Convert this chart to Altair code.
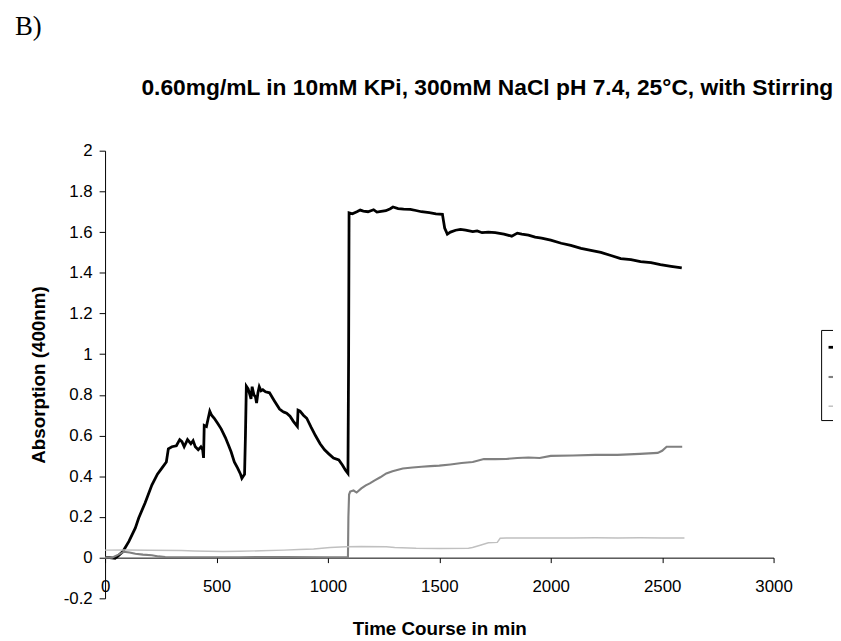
import altair as alt
import pandas as pd

# ---- data ----
black_t = [0, 20, 45, 60, 80, 107, 136, 151, 180, 210, 235, 255, 275, 284, 300, 320, 335, 345, 355, 370,
           385, 395, 405, 418, 430, 438, 442, 445, 455, 462, 470, 478, 490, 505, 521, 540, 555, 566, 580, 595,
           608, 614, 620, 626, 630, 634, 642, 650, 655, 660, 668, 675, 680, 686, 692, 700, 708, 720, 738, 760,
           783, 795, 803, 815, 830, 845, 863, 866, 875, 890, 905, 925, 944, 965, 985, 1004, 1025, 1049, 1065, 1079,
           1090, 1093, 1095, 1110, 1130, 1145, 1159, 1180, 1205, 1220, 1232, 1260, 1280, 1292, 1315, 1340, 1370, 1395, 1420, 1455,
           1485, 1514, 1518, 1524, 1536, 1550, 1573, 1595, 1618, 1650, 1670, 1692, 1720, 1751, 1790, 1825, 1850, 1870, 1900, 1930,
           1959, 2000, 2047, 2090, 2136, 2180, 2225, 2270, 2314, 2360, 2403, 2450, 2492, 2540, 2588]
black_a = [0.0, 0.0, -0.003, 0.01, 0.03, 0.08, 0.146, 0.195, 0.27, 0.357, 0.41, 0.44, 0.47, 0.535, 0.545, 0.55, 0.58, 0.57, 0.545, 0.58,
           0.56, 0.575, 0.545, 0.53, 0.545, 0.53, 0.49, 0.65, 0.645, 0.68, 0.72, 0.70, 0.685, 0.66, 0.633, 0.59, 0.55, 0.519, 0.47, 0.44,
           0.41, 0.39, 0.40, 0.41, 0.60, 0.843, 0.83, 0.80, 0.78, 0.84, 0.80, 0.79, 0.76, 0.81, 0.84, 0.82, 0.825, 0.815, 0.81, 0.77,
           0.73, 0.72, 0.715, 0.71, 0.695, 0.67, 0.645, 0.725, 0.72, 0.70, 0.685, 0.64, 0.60, 0.56, 0.53, 0.51, 0.49, 0.48, 0.455, 0.43,
           0.414, 1.0, 1.695, 1.69, 1.70, 1.708, 1.703, 1.70, 1.71, 1.698, 1.70, 1.705, 1.715, 1.723, 1.715, 1.713, 1.712, 1.706, 1.70, 1.695,
           1.69, 1.687, 1.66, 1.62, 1.59, 1.60, 1.609, 1.613, 1.61, 1.602, 1.606, 1.597, 1.60, 1.597, 1.59, 1.58, 1.595, 1.59, 1.585, 1.575,
           1.57, 1.56, 1.545, 1.535, 1.52, 1.51, 1.50, 1.485, 1.47, 1.465, 1.455, 1.45, 1.44, 1.432, 1.424]

dark_t = [0, 31, 60, 84, 110, 136, 170, 210, 240, 270, 400, 600, 800, 1000, 1090, 1092, 1095, 1100, 1115, 1129,
          1150, 1170, 1188, 1210, 1235, 1262, 1290, 1336, 1380, 1420, 1460, 1500, 1550, 1600, 1650, 1700, 1750, 1800, 1850, 1900,
          1950, 2000, 2100, 2200, 2300, 2400, 2480, 2500, 2520, 2560, 2590]
dark_a = [0.0, 0.0, 0.015, 0.029, 0.025, 0.019, 0.015, 0.012, 0.006, 0.003, 0.002, 0.002, 0.003, 0.002, 0.002, 0.20, 0.31, 0.325, 0.33, 0.32,
          0.34, 0.355, 0.365, 0.38, 0.395, 0.414, 0.425, 0.438, 0.443, 0.447, 0.45, 0.452, 0.458, 0.465, 0.47, 0.485, 0.484, 0.485, 0.49, 0.492,
          0.49, 0.50, 0.502, 0.505, 0.505, 0.51, 0.515, 0.525, 0.545, 0.545, 0.545]

light_t = [0, 100, 200, 343, 400, 460, 530, 600, 700, 803, 870, 936, 1010, 1080, 1150, 1262, 1300, 1396, 1500, 1631,
           1649, 1680, 1720, 1760, 1773, 1800, 1900, 2000, 2100, 2200, 2300, 2400, 2500, 2600]
light_a = [0.037, 0.038, 0.036, 0.035, 0.033, 0.031, 0.030, 0.031, 0.034, 0.037, 0.040, 0.042, 0.050, 0.053, 0.055, 0.053, 0.050, 0.046, 0.045, 0.046,
           0.050, 0.060, 0.073, 0.075, 0.095, 0.097, 0.097, 0.096, 0.097, 0.098, 0.097, 0.098, 0.097, 0.097]

series_names = ["Series1", "Series2", "Series3"]
series_colors = ["#000000", "#808080", "#c0c0c0"]
series_widths = [2.8, 1.5, 1.5]

x_ticks = [0, 500, 1000, 1500, 2000, 2500, 3000]
y_ticks = [-0.2, 0, 0.2, 0.4, 0.6, 0.8, 1, 1.2, 1.4, 1.6, 1.8, 2]

title_text = "0.60mg/mL in 10mM KPi, 300mM NaCl pH 7.4, 25°C, with Stirring"
panel_label = "B)"

rows = []
for name, ts, vals in zip(series_names, [black_t, dark_t, light_t], [black_a, dark_a, light_a]):
    for i, (t, a) in enumerate(zip(ts, vals)):
        rows.append({"series": name, "t": t, "a": a, "i": i})
df = pd.DataFrame(rows)

FONT = "Liberation Sans"
W, H = 675, 452
y_offset = -(0 - (-0.2)) / 2.2 * H

lines = alt.Chart(df).mark_line(interpolate="linear").encode(
    x=alt.X("t:Q",
            scale=alt.Scale(domain=[0, 3000], nice=False, zero=False),
            axis=alt.Axis(values=x_ticks, format="d", offset=y_offset, grid=False, tickSize=5, labelPadding=16,
                          labelFlush=False, labelOverlap=False, labelFont=FONT, labelFontSize=17,
                          labelColor="black", domainColor="black", tickColor="black",
                          title="Time Course in min", titleFont=FONT, titleFontSize=19,
                          titleFontWeight="bold", titleColor="black",
                          titleX=W / 2, titleY=78, titleBaseline="alphabetic", titleAlign="center")),
    y=alt.Y("a:Q",
            scale=alt.Scale(domain=[-0.2, 2], nice=False, zero=False),
            axis=alt.Axis(values=y_ticks, grid=False, tickSize=6, labelPadding=7,
                          labelExpr="replace(format(datum.value, '.1~f'), '\u2212', '-')",
                          labelFlush=False, labelOverlap=False, labelFont=FONT, labelFontSize=17,
                          labelColor="black", domainColor="black", tickColor="black",
                          title="Absorption (400nm)", titleFont=FONT, titleFontSize=19,
                          titleFontWeight="bold", titleColor="black",
                          titleX=-67, titleY=H / 2, titleAngle=270,
                          titleBaseline="middle", titleAlign="center")),
    color=alt.Color("series:N",
                    scale=alt.Scale(domain=series_names, range=series_colors),
                    legend=alt.Legend(orient="none", legendX=723, legendY=181, title=None,
                                      strokeColor="black", padding=6,
                                      symbolType="stroke", symbolSize=400, symbolStrokeWidth=2.5,
                                      rowPadding=10, labelFont=FONT, labelFontSize=15,
                                      labelColor="black", fillColor="white")),
    strokeWidth=alt.StrokeWidth("series:N",
                                scale=alt.Scale(domain=series_names, range=series_widths),
                                legend=None),
    order="i:Q",
)

label = alt.Chart(pd.DataFrame({"txt": [panel_label]})).mark_text(
    font="Liberation Serif", fontSize=27, align="left", baseline="alphabetic", color="black"
).encode(x=alt.value(-91), y=alt.value(-117), text="txt:N")

title = alt.Chart(pd.DataFrame({"txt": [title_text]})).mark_text(
    font=FONT, fontSize=23, fontWeight="bold", align="center", baseline="alphabetic", color="black"
).encode(x=alt.value(386), y=alt.value(-56), text="txt:N")

chart = alt.layer(lines, label, title).properties(
    width=W, height=H,
    autosize=alt.AutoSizeParams(type="none"),
    padding={"left": 98, "top": 141, "right": 60, "bottom": 40},
).configure_view(stroke=None)

chart.save("out.html", embed_options={"renderer": "svg", "actions": False})
